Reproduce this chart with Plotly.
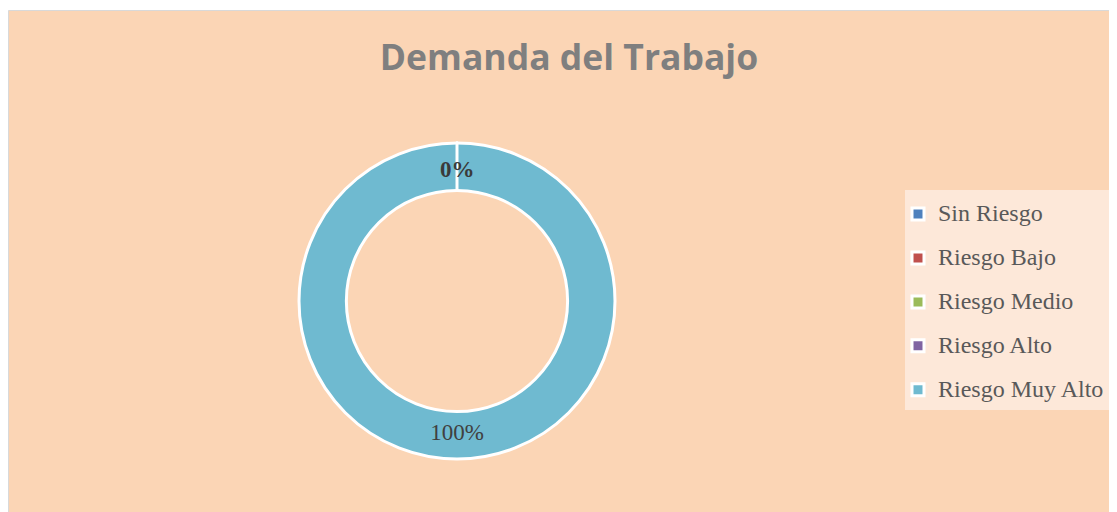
import plotly.graph_objects as go

categories = ["Sin Riesgo", "Riesgo Bajo", "Riesgo Medio", "Riesgo Alto", "Riesgo Muy Alto"]
values = [0, 0, 0, 0, 100]
legend_colors = ["#4F81BD", "#C0504D", "#9BBB59", "#8064A2", "#6FBAD0"]
title_text = "Demanda del Trabajo"
zero_label = "0%"

W, H, OFF = 1109, 504, 8


def px(X):
    return (X - OFF) / W


def py(Y):
    return 1 - (Y - OFF) / H


cx, cy, R, hole = 457, 301, 158, 0.70

fig = go.Figure()
fig.add_trace(go.Pie(
    labels=[f'<span style="font-size:24px;baseline-shift:5px">{c}</span>' for c in categories],
    values=values,
    hole=hole,
    sort=False,
    direction="clockwise",
    rotation=0,
    marker=dict(colors=legend_colors, line=dict(color="white", width=3)),
    texttemplate=["", "", "", "", "%{percent:.0%}"],
    textposition="inside",
    insidetextorientation="horizontal",
    textfont=dict(family="Liberation Serif", size=23, color="#404040"),
    domain=dict(x=[px(cx - R), px(cx + R)], y=[py(cy + R), py(cy - R)]),
    hoverinfo="label+percent",
))

shapes = [
    dict(type="rect", xref="paper", yref="paper", layer="below",
         x0=px(8.5), x1=px(1125), y0=py(10.5), y1=py(530),
         fillcolor="#FBD5B5", line=dict(color="#D9D9D9", width=1)),
    dict(type="rect", xref="paper", yref="paper", layer="below",
         x0=px(905), x1=px(1112), y0=py(190), y1=py(410),
         fillcolor="#FDE8D9", line=dict(width=0)),
    dict(type="line", xref="paper", yref="paper", layer="above",
         x0=px(cx), x1=px(cx), y0=py(cy - R - 1), y1=py(cy - R * hole + 1),
         line=dict(color="white", width=3)),
]

annotations = [
    dict(text=f"<b>{zero_label}</b>", xref="paper", yref="paper", x=px(cx), y=py(170),
         xanchor="center", yanchor="middle", showarrow=False,
         font=dict(family="Liberation Serif", size=23, color="#3A3A3A")),
]

fig.update_layout(
    width=W, height=H,
    margin=dict(l=0, r=0, t=0, b=0),
    paper_bgcolor="white",
    title=dict(text=f"<b>{title_text}</b>", x=px(569), y=py(58), xref="paper", yref="paper",
               xanchor="center", yanchor="middle",
               font=dict(family="Open Sans", size=35.5, color="#7F7F7F")),
    showlegend=True,
    legend=dict(x=px(898), y=py(187), xanchor="left", yanchor="top",
                bgcolor="rgba(0,0,0,0)",
                font=dict(family="Liberation Serif", size=31.5, color="#595959"),
                traceorder="normal"),
    shapes=shapes,
    annotations=annotations,
)

fig.write_html("out.html")
